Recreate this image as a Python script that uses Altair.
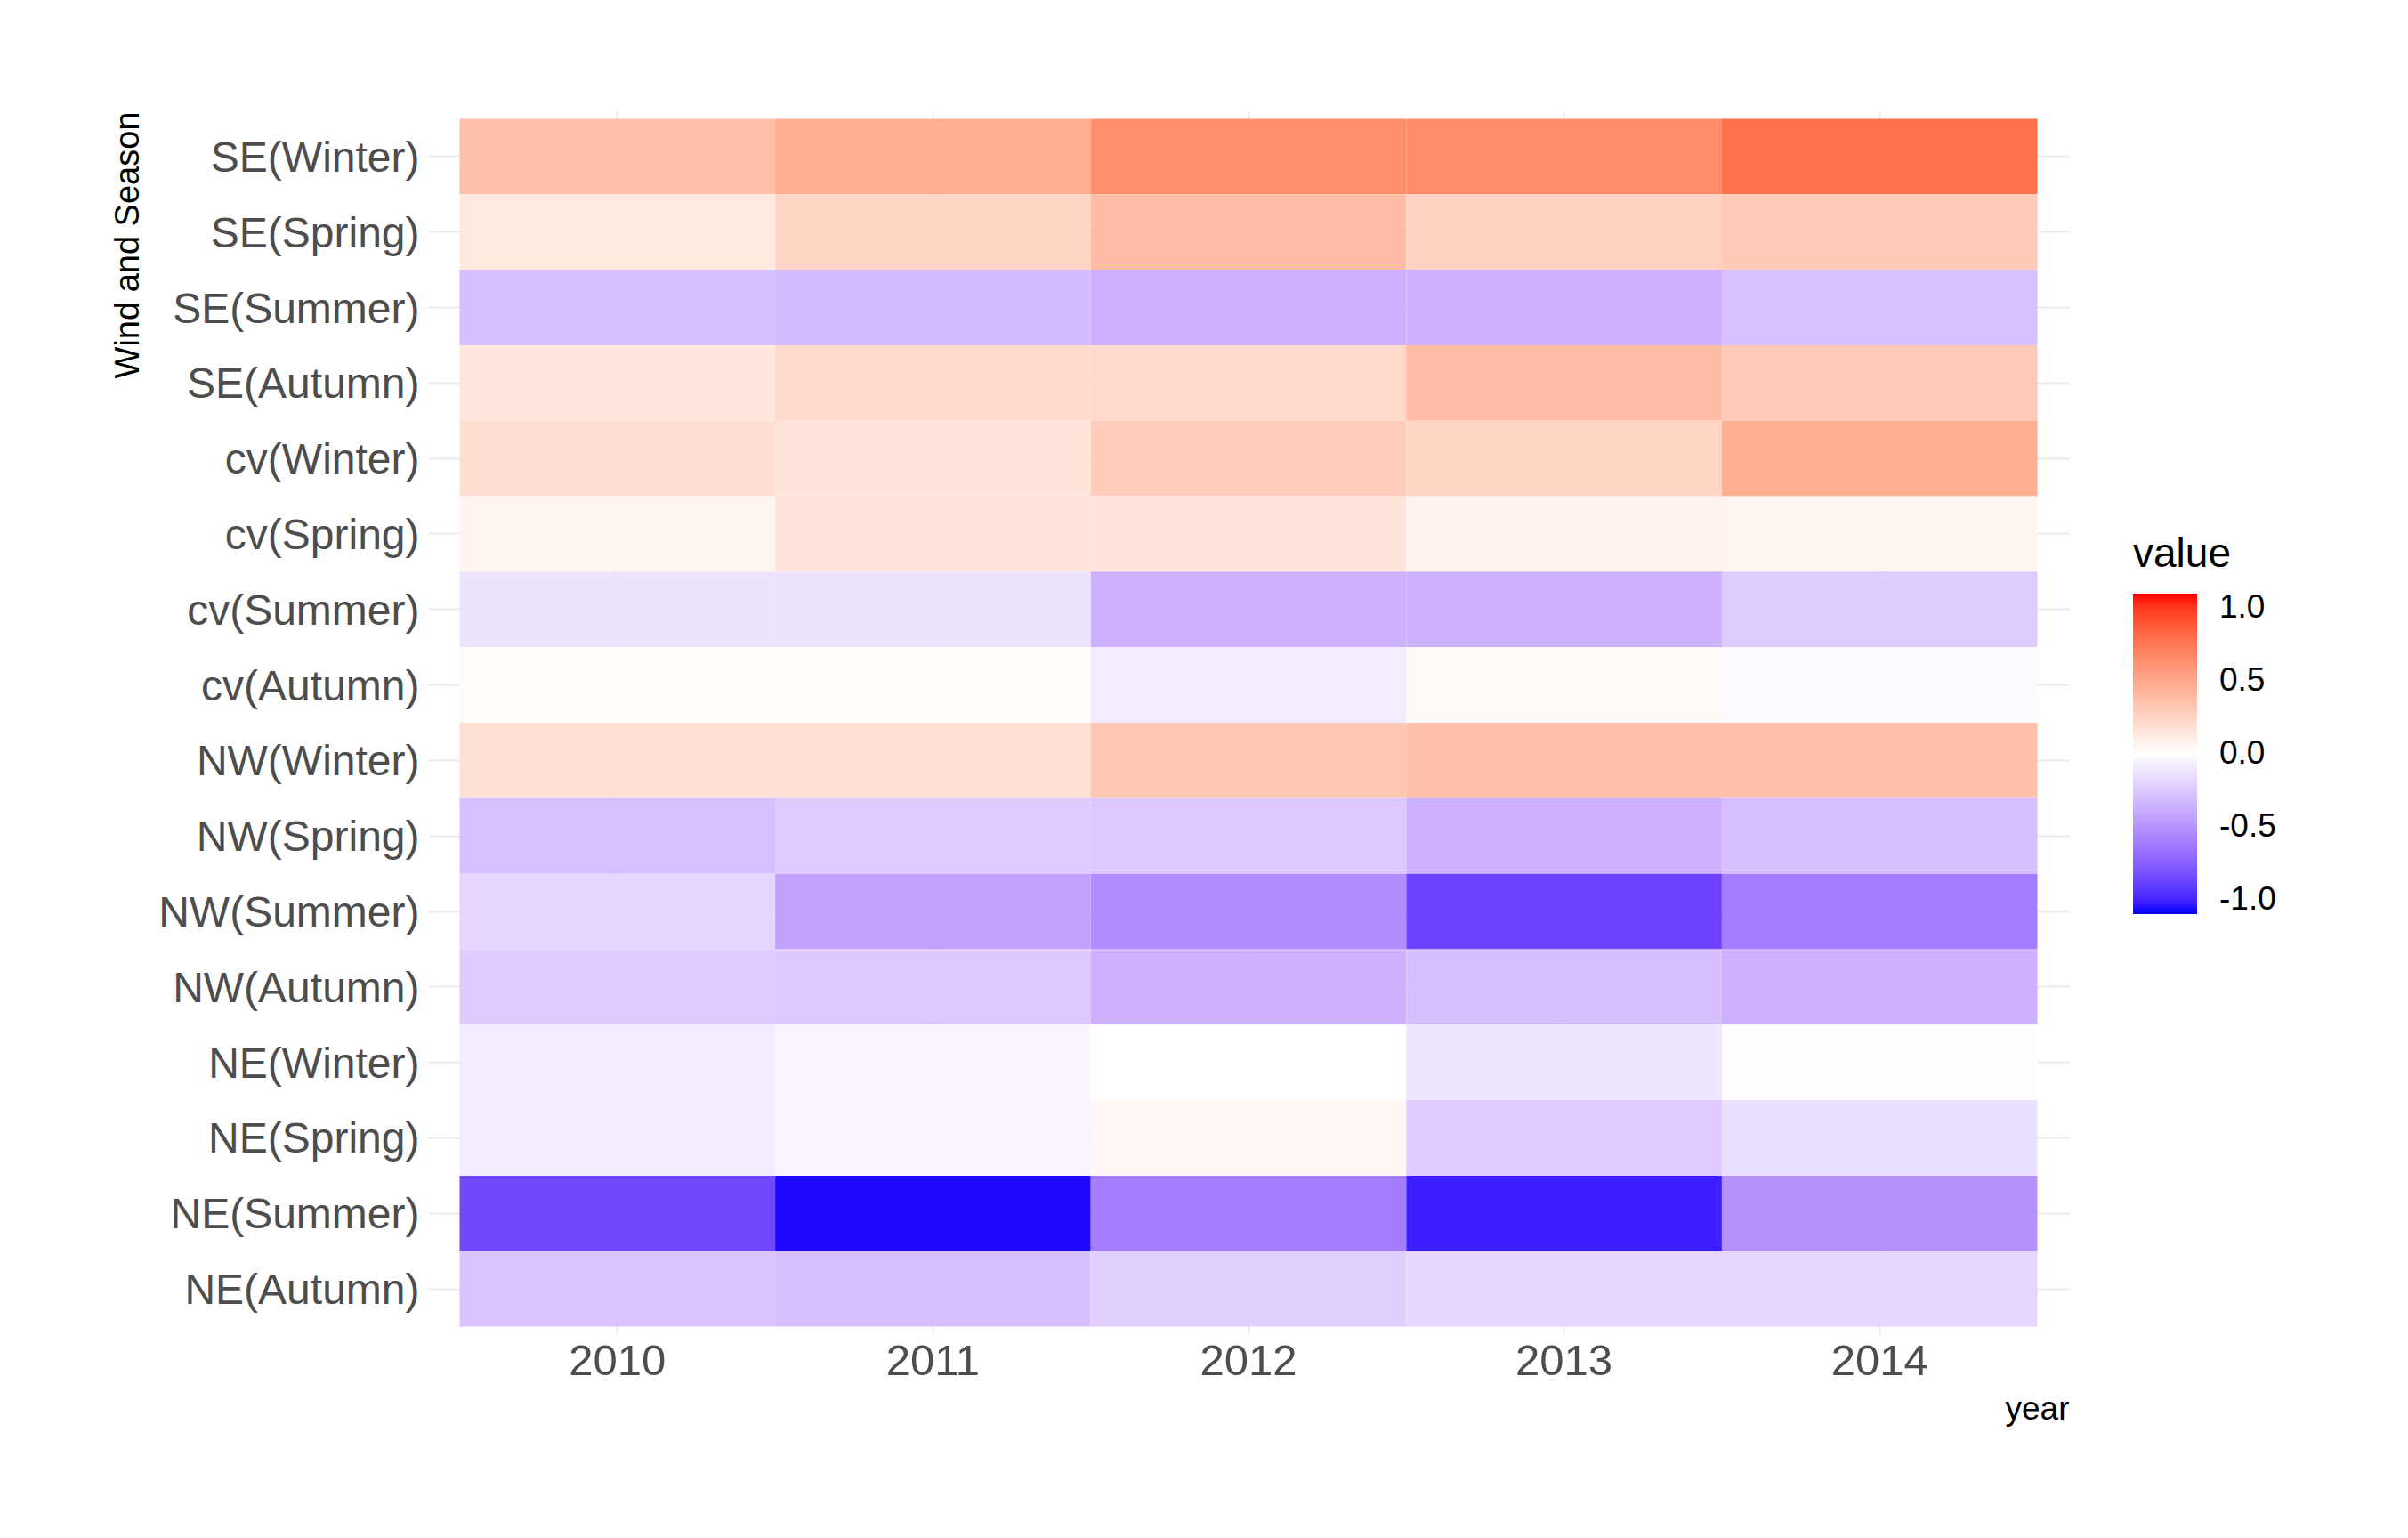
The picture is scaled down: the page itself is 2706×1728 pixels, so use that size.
import altair as alt
import pandas as pd

rows = ["SE(Winter)", "SE(Spring)", "SE(Summer)", "SE(Autumn)",
        "cv(Winter)", "cv(Spring)", "cv(Summer)", "cv(Autumn)",
        "NW(Winter)", "NW(Spring)", "NW(Summer)", "NW(Autumn)",
        "NE(Winter)", "NE(Spring)", "NE(Summer)", "NE(Autumn)"]
years = ["2010", "2011", "2012", "2013", "2014"]

v2010 = [0.37, 0.13, -0.30, 0.14, 0.19, 0.06, -0.13, 0.02,
         0.18, -0.29, -0.19, -0.24, -0.09, -0.09, -0.86, -0.27]
v2011 = [0.47, 0.24, -0.31, 0.22, 0.16, 0.16, -0.13, 0.02,
         0.18, -0.24, -0.43, -0.25, -0.05, -0.05, -1.08, -0.30]
v2012 = [0.64, 0.39, -0.37, 0.22, 0.29, 0.16, -0.36, -0.09,
         0.33, -0.26, -0.53, -0.36, 0.00, 0.04, -0.61, -0.22]
v2013 = [0.65, 0.26, -0.36, 0.39, 0.24, 0.07, -0.36, 0.03,
         0.37, -0.36, -0.88, -0.30, -0.12, -0.24, -1.03, -0.19]
v2014 = [0.79, 0.31, -0.29, 0.31, 0.47, 0.06, -0.23, -0.02,
         0.37, -0.30, -0.61, -0.37, 0.01, -0.14, -0.51, -0.19]

cols = [v2010, v2011, v2012, v2013, v2014]
records = []
for yr, col in zip(years, cols):
    for r, v in zip(rows, col):
        records.append({"year": yr, "ws": r, "value": v})
df = pd.DataFrame(records)

FONT = "Liberation Sans"

chart = alt.Chart(df).mark_rect(strokeWidth=0, opacity=1).encode(
    x=alt.X("year:N", sort=years,
            scale=alt.Scale(paddingInner=0, paddingOuter=0.1),
            axis=alt.Axis(title="year", labelAngle=0, labelFontSize=49,
                          labelColor="#4D4D4D", labelPadding=6,
                          ticks=False, domain=False, grid=True, zindex=0,
                          gridColor="#EBEBEB", gridWidth=2, bandPosition=0.5,
                          titleAnchor="end", titleFontSize=37,
                          titleFontWeight="normal", titleColor="black",
                          titlePadding=11)),
    y=alt.Y("ws:N", sort=rows,
            scale=alt.Scale(paddingInner=0, paddingOuter=0.1),
            axis=alt.Axis(title="Wind and Season", labelFontSize=48,
                          labelColor="#4D4D4D", labelPadding=10, labelLimit=0,
                          labelOffset=3,
                          ticks=False, domain=False, grid=True, zindex=0,
                          gridColor="#EBEBEB", gridWidth=2, bandPosition=0.5,
                          titleFontSize=38, titleFontWeight="normal",
                          titleColor="black", titleAngle=270,
                          titleX=-318, titleY=0, titleAlign="right",
                          titleBaseline="bottom")),
    color=alt.Color("value:Q",
                    scale=alt.Scale(domain=[-1.1, 0, 1.1],
                                    range=["blue", "white", "red"],
                                    interpolate="lab"),
                    legend=alt.Legend(title="value", orient="none",
                                      legendX=1916, legendY=476,
                                      values=[-1, -0.5, 0, 0.5, 1],
                                      labelExpr="(datum.value < 0 ? '-' : '') + format(abs(datum.value), '.1f')",
                                      gradientLength=360, gradientThickness=72,
                                      gradientStrokeWidth=0,
                                      titleFontSize=46, titleFontWeight="normal",
                                      titleColor="black", titlePadding=20,
                                      labelFontSize=37, labelColor="black",
                                      labelOffset=25)),
).properties(
    width=1844, height=1374,
    padding={"left": 117, "top": 117, "right": 5, "bottom": 5},
).configure(font=FONT).configure_view(stroke=None)

chart.save("out.html", embed_options={"renderer": "svg", "actions": False})
